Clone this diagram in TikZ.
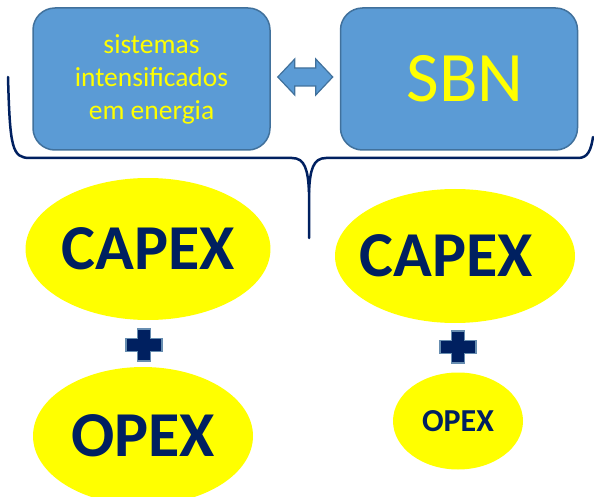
\documentclass[tikz,border=0pt]{standalone}
\usepackage{fontspec}
\setmainfont{Carlito}
\usetikzlibrary{shapes.geometric,calc}
\definecolor{boxblue}{HTML}{5B9BD5}
\definecolor{boxedge}{HTML}{41719C}
\definecolor{navy}{HTML}{002060}
\definecolor{yel}{HTML}{FFFF00}
\tikzset{
  bluebox/.style={draw=boxedge, line width=1.5pt, fill=boxblue, rounded corners=22pt,
    minimum width=237pt, minimum height=142pt, inner sep=0pt, text=yel, align=center},
  oval/.style={ellipse, fill=yel, inner sep=0pt, text=navy, font=\bfseries},
  bigtxt/.style={font=\fontsize{64pt}{70pt}\selectfont\bfseries},
  bracestyle/.style={draw=navy, line width=2.5pt, line cap=round},
  plusstyle/.style={fill=navy, draw=boxedge!80, line width=1.5pt, line join=miter},
  arrstyle/.style={fill=boxblue, draw=boxedge, line width=1.2pt, line join=miter}
}
\begin{document}
\begin{tikzpicture}[x=1pt,y=-1pt]
\useasboundingbox (0,0) rectangle (594,497);
% boxes
\node[bluebox, font=\fontsize{27.5pt}{33pt}\selectfont] (box1) at (151.5,79) {sistemas\\intensificados\\em energia};
\node[bluebox, font=\fontsize{71pt}{77pt}\selectfont] (box2) at (459,79) {\hspace*{12pt}SBN};
% double arrow between boxes
\coordinate (arrc) at ($(box1.east)!0.5!(box2.west)+(0,-2)$);
\draw[arrstyle] ([shift={(-27.5,0)}]arrc) -- ([shift={(-10.5,-18)}]arrc) -- ([shift={(-10.5,-9)}]arrc)
  -- ([shift={(10.5,-9)}]arrc) -- ([shift={(10.5,-18)}]arrc) -- ([shift={(27.5,0)}]arrc)
  -- ([shift={(10.5,18)}]arrc) -- ([shift={(10.5,9)}]arrc) -- ([shift={(-10.5,9)}]arrc)
  -- ([shift={(-10.5,18)}]arrc) -- cycle;
% brace
\coordinate (bl) at (8,77);
\coordinate (tip) at (309,238);
\coordinate (br) at (593,137);
\draw[bracestyle] (bl) .. controls (10,148) and (12,158) .. (30,158) -- (292,158)
  .. controls (305,158) and (308,170) .. (309,192) -- (tip);
\draw[bracestyle] (309,192) .. controls (310,170) and (313,158) .. (326,158) -- (578,158)
  .. controls (588,158) and (591,150) .. (br);
% ellipses
\node[oval, minimum width=240pt, minimum height=142pt, bigtxt] (capexL) at (148,249) {CAPEX};
\node[oval, minimum width=240pt, minimum height=134pt, bigtxt] (capexR) at (455,256) {\hspace*{-18pt}CAPEX};
\node[oval, minimum width=220pt, minimum height=138pt, bigtxt] (opexL) at (143,436) {\raisebox{-3pt}{OPEX}};
\node[oval, minimum width=130pt, minimum height=97pt, font=\fontsize{32pt}{36pt}\selectfont\bfseries] (opexR) at (458,421) {\raisebox{-5pt}{OPEX}};
% plus signs
\coordinate (plusL) at (144,345);
\coordinate (plusR) at (458,347);
\foreach \p in {plusL,plusR}{
  \draw[plusstyle] ([shift={(-6.5,-16)}]\p) -- ([shift={(6.5,-16)}]\p) -- ([shift={(6.5,-6.5)}]\p)
    -- ([shift={(18,-6.5)}]\p) -- ([shift={(18,6.5)}]\p) -- ([shift={(6.5,6.5)}]\p)
    -- ([shift={(6.5,16)}]\p) -- ([shift={(-6.5,16)}]\p) -- ([shift={(-6.5,6.5)}]\p)
    -- ([shift={(-18,6.5)}]\p) -- ([shift={(-18,-6.5)}]\p) -- ([shift={(-6.5,-6.5)}]\p) -- cycle;
}
\end{tikzpicture}
\end{document}
